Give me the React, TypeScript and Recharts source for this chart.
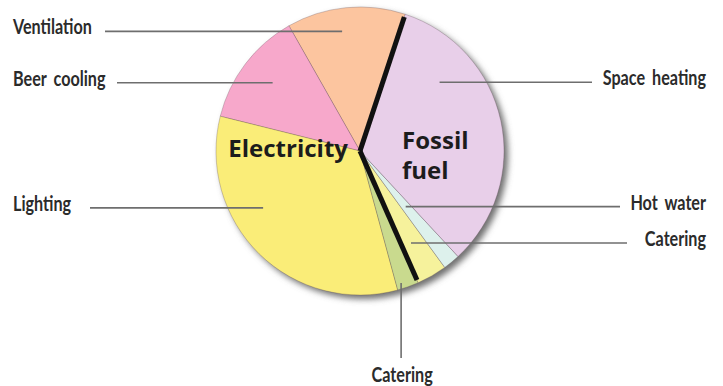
import React from 'react';
import { PieChart, Pie, Cell } from 'recharts';

// end uses, share of total energy (%)
const categories = ['Ventilation', 'Beer cooling', 'Lighting', 'Catering', 'Catering', 'Hot water', 'Space heating'];
const shares = [13.3, 12.9, 33.1, 2.4, 3.4, 1.9, 33.0];
const sources = ['Electricity', 'Electricity', 'Electricity', 'Electricity', 'Fossil fuel', 'Fossil fuel', 'Fossil fuel'];
const sourceNames = ['Electricity', 'Fossil fuel'];

const colors = ['#FCC59F', '#F7A8CB', '#FAED78', '#C9DA8E', '#F6F29C', '#DDF1EC', '#E8CFE9'];

const data = categories.map((name, i) => ({ name, value: shares[i], source: sources[i] }));
const sourceData = sourceNames.map((name) => ({
  name,
  value: data.filter((d) => d.source === name).reduce((s, d) => s + d.value, 0),
}));

const W = 723;
const H = 386;
const CX = 360;
const CY = 151;
const R = 144;
const START = 71.7;

const labelFont = "'Lato', 'Roboto', sans-serif";
const boldFont = "'Open Sans', 'DejaVu Sans', sans-serif";
const SQUEEZE = 0.77; // the labels use a condensed face

// where each leader line starts inside its slice, and where its label sits
const labelLayout = [
  { angle: 98.5, r: 0.84, side: 'left', textX: 13, lineX: 105 },
  { angle: 142, r: 0.77, side: 'left', textX: 13, lineX: 117 },
  { angle: 210.4, r: 0.78, side: 'left', textX: 13, lineX: 90 },
  { angle: 287.3, r: 0.96, side: 'bottom', lineY: 358, textY: 382 },
  { angle: 299, r: 0.73, side: 'right', textX: 706, lineX: 627 },
  { angle: 309.4, r: 0.5, side: 'right', textX: 706, lineX: 620 },
  { angle: 40.8, r: 0.73, side: 'right', textX: 706, lineX: 592 },
];

const RAD = Math.PI / 180;
const polar = (cx: number, cy: number, r: number, angle: number) => ({
  x: cx + r * Math.cos(-angle * RAD),
  y: cy + r * Math.sin(-angle * RAD),
});

const Label = ({ x, y, anchor, children }: any) => (
  <text
    transform={`translate(${x},${y}) scale(${SQUEEZE},1)`}
    x={0}
    y={0}
    textAnchor={anchor}
    fontFamily={labelFont}
    fontSize={21}
    fontWeight={700}
    wordSpacing={4}
    fill="#2b2b2b"
  >
    {children}
  </text>
);

const renderLeader = (props: any) => {
  const { cx, cy, outerRadius, index, name } = props;
  const l = labelLayout[index];
  const p = polar(cx, cy, outerRadius * l.r, l.angle);
  if (l.side === 'bottom') {
    return (
      <g key={`lbl-${index}`}>
        <line x1={p.x} y1={p.y} x2={p.x} y2={l.lineY} stroke="#6e6e6e" strokeWidth={1.6} />
        <Label x={p.x + 1} y={l.textY} anchor="middle">{name}</Label>
      </g>
    );
  }
  return (
    <g key={`lbl-${index}`}>
      <line x1={p.x} y1={p.y} x2={l.lineX} y2={p.y} stroke="#6e6e6e" strokeWidth={1.6} />
      <Label x={l.textX} y={p.y + 3} anchor={l.side === 'left' ? 'start' : 'end'}>
        {name}
      </Label>
    </g>
  );
};

// thick black divider between the electricity and fossil fuel halves, plus their titles
const renderDivider = (props: any) => {
  const { cx, cy, outerRadius, startAngle, index } = props;
  const end = polar(cx, cy, outerRadius * 0.98, startAngle);
  const titleStyle = { fontFamily: boldFont, fontSize: 24, fontWeight: 700, fill: '#1c1c1c' };
  return (
    <g key={`div-${index}`}>
      <line x1={cx} y1={cy} x2={end.x} y2={end.y} stroke="#111" strokeWidth={5} strokeLinecap="butt" />
      {index === 0 ? (
        <text x={cx - 12} y={cy + 6} textAnchor="end" {...titleStyle}>Electricity</text>
      ) : (
        <text x={cx + 42} y={cy - 2} textAnchor="start" {...titleStyle}>
          <tspan x={cx + 42}>Fossil</tspan>
          <tspan x={cx + 42} dy={30}>fuel</tspan>
        </text>
      )}
    </g>
  );
};

export default function App() {
  return (
    <div style={{ width: W, height: H, background: '#fff' }}>
      <style>{'body{margin:0}'}</style>
      <PieChart width={W} height={H} margin={{ top: 0, right: 0, bottom: 0, left: 0 }}>
        <defs>
          <filter id="pieShadow" x="-20%" y="-20%" width="140%" height="140%">
            <feGaussianBlur stdDeviation="3" />
          </filter>
        </defs>
        <Pie
          data={[{ name: 'shadow', value: 1 }]}
          dataKey="value"
          cx={CX + 4}
          cy={CY + 4}
          outerRadius={R}
          stroke="none"
          isAnimationActive={false}
        >
          <Cell fill="#6f6f6f" filter="url(#pieShadow)" />
        </Pie>
        <Pie
          data={data}
          dataKey="value"
          nameKey="name"
          cx={CX}
          cy={CY}
          outerRadius={R}
          startAngle={START}
          endAngle={START + 360}
          stroke="rgba(90,70,80,0.35)"
          strokeWidth={0.8}
          label={renderLeader}
          labelLine={false}
          isAnimationActive={false}
        >
          {data.map((d, i) => (
            <Cell key={i} fill={colors[i]} />
          ))}
        </Pie>
        <Pie
          data={sourceData}
          dataKey="value"
          nameKey="name"
          cx={CX}
          cy={CY}
          outerRadius={R}
          startAngle={START}
          endAngle={START + 360}
          fill="none"
          stroke="none"
          label={renderDivider}
          labelLine={false}
          isAnimationActive={false}
        />
      </PieChart>
    </div>
  );
}
